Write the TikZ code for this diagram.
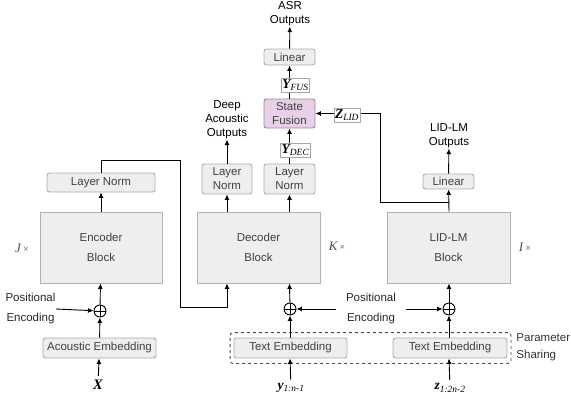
\documentclass[tikz,border=0pt]{standalone}
\usepackage{fontspec}
\setmainfont{Liberation Sans}
\newfontfamily\tnr{Liberation Serif}
\usetikzlibrary{arrows.meta, fit}

\newcommand{\bsym}[2]{{\tnr\bfseries\itshape #1}\textsubscript{\tnr\itshape #2}}
\newcommand{\rep}[1]{{\tnr\itshape #1}\,{\tnr\fontsize{10}{10}\selectfont ×}}

\tikzset{
  box/.style={draw=gray!65, fill=gray!13, rounded corners=2.5pt, line width=0.9pt,
    text=black!75, inner sep=0pt, align=center, font=\fontsize{11.5}{14}\selectfont},
  block/.style={draw=gray!60, fill=gray!13, line width=0.9pt, text=black!75,
    inner sep=0pt, align=center, font=\fontsize{11.5}{20}\selectfont},
  fusebox/.style={box, draw=violet!30!gray!75, fill=violet!18!white},
  tag/.style={draw=gray!70, fill=white, line width=0.5pt, inner xsep=1pt, inner ysep=1.5pt,
    font=\fontsize{13.5}{14}\selectfont},
  plus/.style={circle, draw, line width=0.9pt, minimum size=12pt, inner sep=0pt,
    path picture={\draw[line width=0.9pt] (path picture bounding box.north) -- (path picture bounding box.south)
      (path picture bounding box.west) -- (path picture bounding box.east);}},
  lbl/.style={align=center, inner sep=0pt, font=\fontsize{11.5}{14}\selectfont},
  rep/.style={text=black!70, font=\fontsize{13}{13}\selectfont},
}

\begin{document}
\begin{tikzpicture}[
  x=1pt, y=-1pt,
  >={Latex[length=5.5pt,width=5pt]},
  line width=0.9pt
]
  \useasboundingbox (0,0) rectangle (571,399);

  % Encoder column
  \node (encLN) [box, minimum width=108pt, minimum height=19pt] at (101,182.5) {Layer Norm};
  \node (enc) [block, minimum width=122pt, minimum height=71pt] at (101,247.5) {Encoder\\Block};
  \node (encAdd) [plus] at (100,311) {};
  \node (acEmb) [box, minimum width=113pt, minimum height=20pt] at (99.5,348) {Acoustic Embedding};
  \node (X) [font=\fontsize{14.5}{14}\selectfont] at (98,384.5) {{\tnr\bfseries\itshape X}};
  \node (posEncA) [lbl, font=\fontsize{11.5}{20}\selectfont, text=black!85] at (30.5,309) {Positional\\Encoding};
  \node (J) [rep] at (22,248) {\rep{J}};

  % Decoder column
  \node (dec) [block, minimum width=123pt, minimum height=71pt] at (258.5,247.5) {Decoder\\Block};
  \node (decLNa) [box, minimum width=50pt, minimum height=30pt] at (227,179) {Layer\\Norm};
  \node (decLNb) [box, minimum width=51pt, minimum height=30pt] at (289.5,179) {Layer\\Norm};
  \node (deepOut) [lbl] at (227,120) {Deep\\Acoustic\\Outputs};
  \node (fusion) [fusebox, minimum width=51pt, minimum height=29pt] at (289.5,113.5) {State\\Fusion};
  \node (linASR) [box, minimum width=51pt, minimum height=16pt] at (289.5,57) {Linear};
  \node (asrOut) [lbl] at (290,14) {ASR\\Outputs};
  \node (K) [rep] at (337,246) {\rep{K}};
  \node (decAdd) [plus] at (290,309) {};
  \node (txtEmbA) [box, minimum width=113pt, minimum height=20pt] at (290.5,348) {Text Embedding};
  \node (y) [font=\fontsize{13.5}{13}\selectfont] at (291,388) {\bsym{y}{1:n-1}};
  \node (posEncB) [lbl, font=\fontsize{11.5}{20}\selectfont, text=black!85, inner xsep=10pt] at (371,309) {Positional\\Encoding};

  % LID-LM column
  \node (lid) [block, minimum width=123pt, minimum height=71pt] at (448.5,247.5) {LID-LM\\Block};
  \node (linLID) [box, minimum width=51pt, minimum height=15pt] at (448.5,181.5) {Linear};
  \node (lidOut) [lbl] at (449,136) {LID-LM\\Outputs};
  \node (I) [rep] at (525,247) {\rep{I}};
  \node (lidAdd) [plus] at (449,309) {};
  \node (txtEmbB) [box, minimum width=114pt, minimum height=20pt] at (450,348) {Text Embedding};
  \node (z) [font=\fontsize{13.5}{13}\selectfont] at (450,388) {\bsym{z}{1:2n-2}};

  % Shared embeddings
  \node (shared) [draw=black!70, dashed, rounded corners=3pt, line width=0.9pt,
    inner xsep=3.5pt, inner ysep=5pt, fit=(txtEmbA)(txtEmbB)] {};
  \node (share) [lbl, anchor=west, align=left, font=\fontsize{11.5}{17}\selectfont, text=black!80] at (516,347) {Parameter\\Sharing};

  % Helper points
  \coordinate (c1) at (180,160);
  \coordinate (c2) at (227,307);
  \coordinate (j) at (449,202);
  \coordinate (c3) at (380,0);

  % Edges
  \draw [->] (X) -- (acEmb);
  \draw [->] (acEmb) -- (encAdd);
  \draw [->] (encAdd) -- (enc);
  \draw [->] (posEncA.east) -- (encAdd);
  \draw [->] (enc) -- (encLN);
  \draw [->] (encLN.north) |- (c1) |- (c2) -- (decLNa |- dec.south);

  \draw [->] (y) -- (txtEmbA.south -| decAdd);
  \draw [->] (txtEmbA.north -| decAdd) -- (decAdd);
  \draw [->] (decAdd) -- (decLNb |- dec.south);
  \draw [->] (posEncB.west) -- (decAdd);
  \draw [->] (decLNa |- dec.north) -- (decLNa);
  \draw [->] (decLNb |- dec.north) -- (decLNb);
  \draw [->] (decLNa) -- (deepOut);
  \draw [->] (decLNb) -- (fusion);
  \draw [->] (fusion) -- (linASR);
  \draw [->] (linASR) -- (asrOut);

  \draw [->] (z) -- (txtEmbB.south -| lidAdd);
  \draw [->] (txtEmbB.north -| lidAdd) -- (lidAdd);
  \draw [->] (lidAdd) -- (lidAdd |- lid.south);
  \draw [->] (posEncB.east) -- (lidAdd);
  \draw [->] (lidAdd |- lid.north) -- (linLID);
  \draw [->] (linLID) -- (lidOut);
  \draw [->] (j) -| (c3 |- fusion.east) -- (fusion.east);

  % Tags on edges
  \node (yDec) [tag] at (295.5,150) {\bsym{Y}{DEC}};
  \node (yFus) [tag] at (295.5,85.5) {\bsym{Y}{FUS}};
  \node (zLid) [tag] at (347,115) {\bsym{Z}{LID}};
\end{tikzpicture}
\end{document}
